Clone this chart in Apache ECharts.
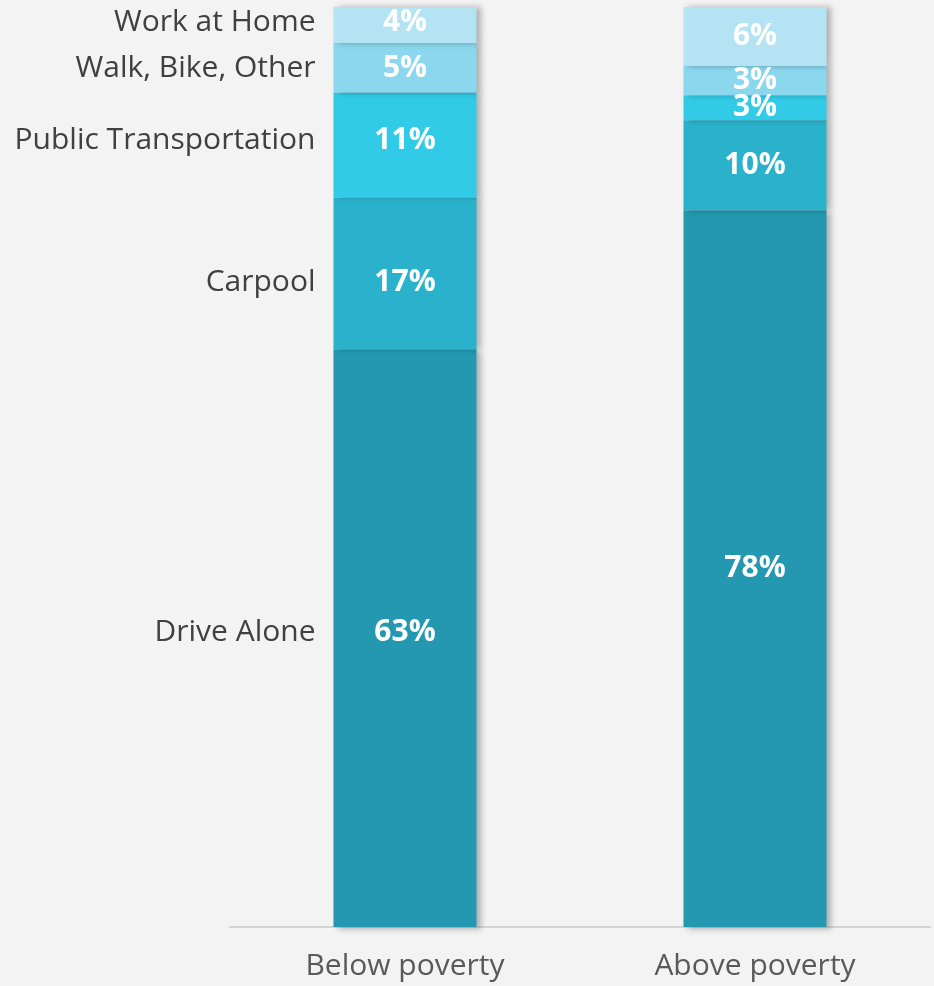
<!DOCTYPE html>
<html>
<head>
<meta charset="utf-8">
<script src="https://cdn.jsdelivr.net/npm/echarts@6/dist/echarts.min.js"></script>
<style>
html,body{margin:0;padding:0;background:#f3f3f3;}
#chart{width:934px;height:986px;}
</style>
</head>
<body>
<div id="chart"></div>
<script>
const categories = ['Below poverty', 'Above poverty'];
const modes = ['Drive Alone', 'Carpool', 'Public Transportation', 'Walk, Bike, Other', 'Work at Home'];
const driveAlone = [62.8, 77.9];
const carpool = [16.5, 9.8];
const publicTransportation = [11.4, 2.7];
const walkBikeOther = [5.4, 3.2];
const workAtHome = [3.9, 6.4];
const colors = ['#2398b0', '#2ab2cc', '#31cbe8', '#8ad7ee', '#b4e3f3'];

const seriesValues = [driveAlone, carpool, publicTransportation, walkBikeOther, workAtHome];
// small vertical nudges of the labels in the first bar, as in the reference
const labelNudge = [-6, 9, -5, 1, -2];
const FONT = '"Open Sans", "Noto Sans", sans-serif';

const series = [];
seriesValues.forEach((vals, i) => {
  series.push({
    name: modes[i],
    type: 'bar',
    stack: 'share',
    barWidth: 143,
    data: vals.map((v, j) => j === 0 ? { value: v, label: { offset: [0, labelNudge[i]] } } : v),
    itemStyle: {
      color: colors[i],
      shadowColor: 'rgba(0,0,0,0.28)',
      shadowBlur: 6,
      shadowOffsetX: 4,
      shadowOffsetY: i === 0 ? 2 : 0
    },
    label: {
      show: true,
      position: 'inside',
      color: '#ffffff',
      fontFamily: FONT,
      fontWeight: 'bold',
      fontSize: 30,
      formatter: p => Math.round(p.value) + '%'
    },
    silent: true
  });
});
// invisible overlay used only to place category-name labels left of the first bar
seriesValues.forEach((vals, i) => {
  series.push({
    name: modes[i] + ' label',
    type: 'bar',
    stack: 'names',
    barWidth: 143,
    barGap: '-100%',
    data: [vals[0], '-'],
    itemStyle: { color: 'rgba(0,0,0,0)' },
    label: {
      show: true,
      position: 'left',
      distance: 18,
      offset: [0, labelNudge[i]],
      color: '#404040',
      fontFamily: FONT,
      fontSize: 30,
      formatter: () => modes[i]
    },
    silent: true,
    z: 3
  });
});

const chart = echarts.init(document.getElementById('chart'));
chart.setOption({
  backgroundColor: '#f3f3f3',
  animation: false,
  grid: { left: 230, right: 4, top: 7, bottom: 59, containLabel: false },
  xAxis: {
    type: 'category',
    data: categories,
    axisLine: { show: true, lineStyle: { color: '#d4d4d4', width: 2 } },
    axisTick: { show: false },
    axisLabel: { color: '#595959', fontFamily: FONT, fontSize: 30, margin: 24 }
  },
  yAxis: {
    type: 'value',
    min: 0,
    max: 100,
    show: false
  },
  series: series
});
</script>
</body>
</html>
